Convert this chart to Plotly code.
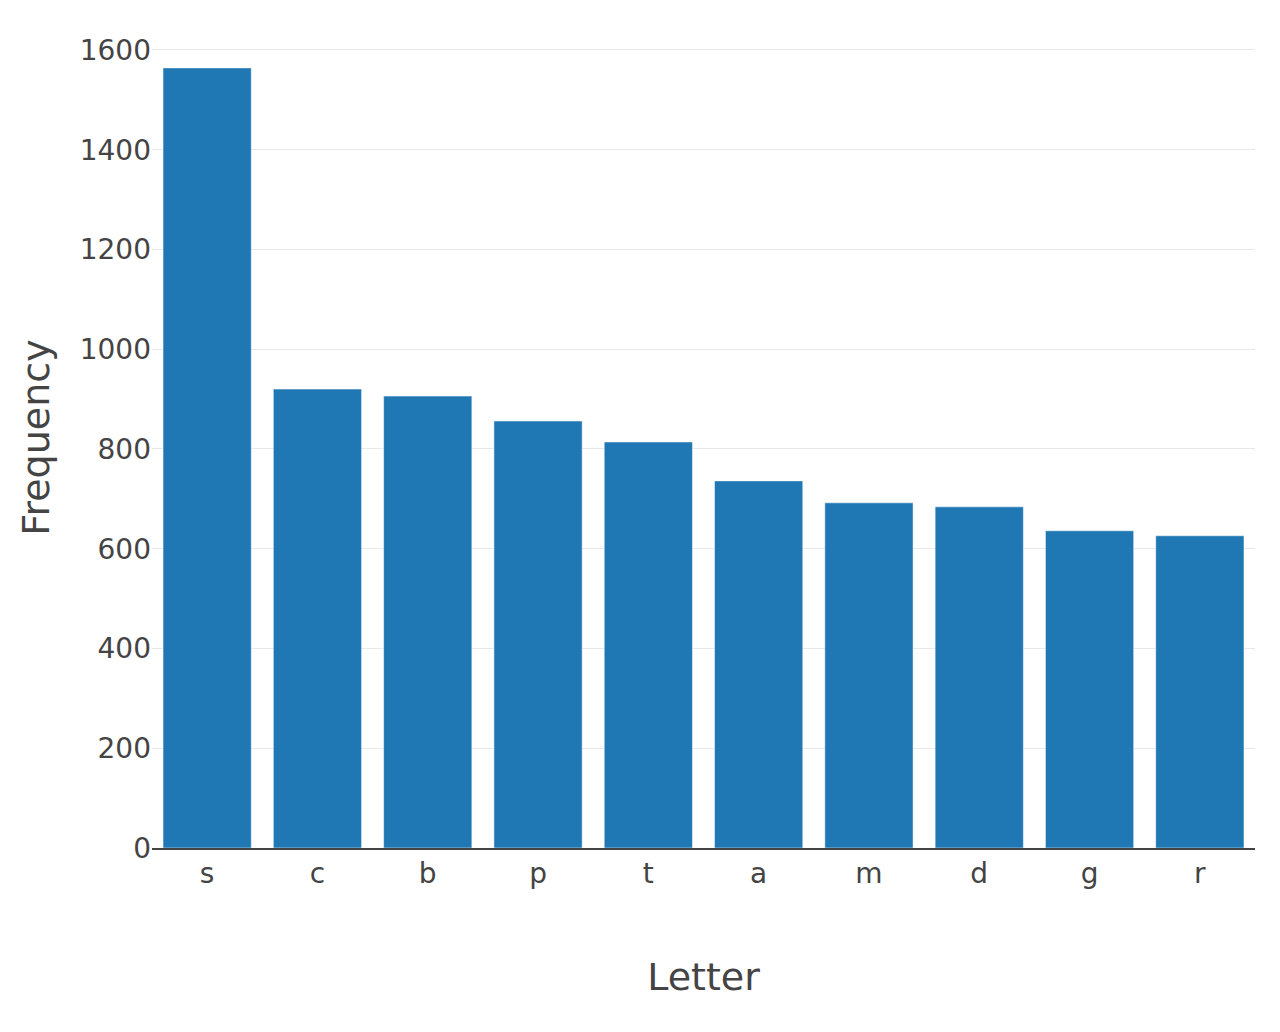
import plotly.graph_objects as go

letters = ["s", "c", "b", "p", "t", "a", "m", "d", "g", "r"]
frequency = [1564, 920, 906, 856, 814, 736, 692, 684, 636, 626]

FONT = "DejaVu Sans"

fig = go.Figure(
    go.Bar(
        x=letters,
        y=frequency,
        marker=dict(color="#1f77b4", line=dict(color="white", width=0.5)),
    )
)

fig.update_layout(
    template="plotly_white",
    width=1272,
    height=1024,
    margin=dict(l=144, r=25, t=19, b=184),
    font=dict(family=FONT, color="#444", size=28),
    bargap=0.2,
    showlegend=False,
    xaxis=dict(
        title=dict(text="Letter", font=dict(size=38, family=FONT), standoff=74),
        tickfont=dict(size=28, family=FONT),
        showline=True,
        linecolor="#444",
        linewidth=1.5,
        showgrid=False,
    ),
    yaxis=dict(
        title=dict(text="Frequency", font=dict(size=38, family=FONT), standoff=18),
        tickfont=dict(size=28, family=FONT),
        gridcolor="#e8e8e8",
        zeroline=False,
        tickvals=[0, 200, 400, 600, 800, 1000, 1200, 1400, 1600],
        range=[0, 1646],
    ),
)

fig.write_html("out.html")
